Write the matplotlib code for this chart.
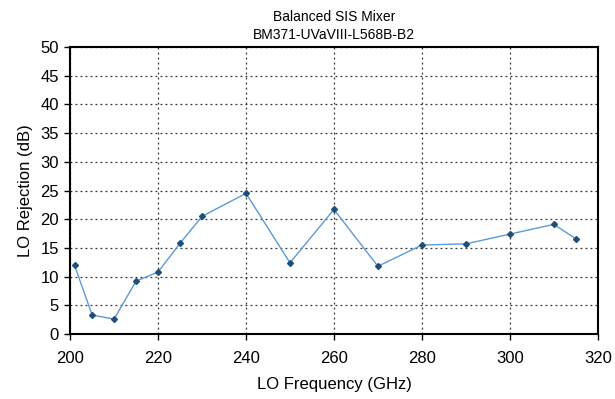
import matplotlib
matplotlib.use("Agg")
import matplotlib.pyplot as plt
from matplotlib.ticker import MultipleLocator

plt.rcParams['font.family'] = ['Liberation Sans', 'DejaVu Sans']

freq = [201, 205, 210, 215, 220, 225, 230, 240, 250, 260, 270, 280, 290, 300, 310, 315]
rejection = [12.0, 3.3, 2.6, 9.2, 10.8, 15.8, 20.5, 24.5, 12.4, 21.7, 11.8, 15.5, 15.7, 17.4, 19.1, 16.6]

fig = plt.figure(figsize=(6.15, 3.99), dpi=100)
ax = fig.add_axes([0.114, 0.163, 0.858, 0.719])

ax.plot(freq, rejection, color='#5b9bd5', linewidth=1.0, marker='D', markersize=3,
        markerfacecolor='#1f4e79', markeredgecolor='#1f4e79', zorder=3)

ax.set_xlim(200, 320)
ax.set_ylim(0, 50)
ax.xaxis.set_major_locator(MultipleLocator(20))
ax.yaxis.set_major_locator(MultipleLocator(5))
ax.grid(True, color='#333333', linestyle=(0, (1.5, 2.5)), linewidth=0.9)
for s in ax.spines.values():
    s.set_color('black')
    s.set_linewidth(1.5)
ax.tick_params(direction='out', length=4, width=1, labelsize=12, colors='black', pad=4)
ax.tick_params(axis='x', pad=8)

ax.set_xlabel('LO Frequency (GHz)', fontsize=12, labelpad=8)
ax.set_ylabel('LO Rejection (dB)', fontsize=12, labelpad=5)
fig.text(0.543, 0.957, 'Balanced SIS Mixer', ha='center', va='center', fontsize=10)
fig.text(0.543, 0.913, 'BM371-UVaVIII-L568B-B2', ha='center', va='center', fontsize=10)

fig.savefig('out.png', dpi=100)
